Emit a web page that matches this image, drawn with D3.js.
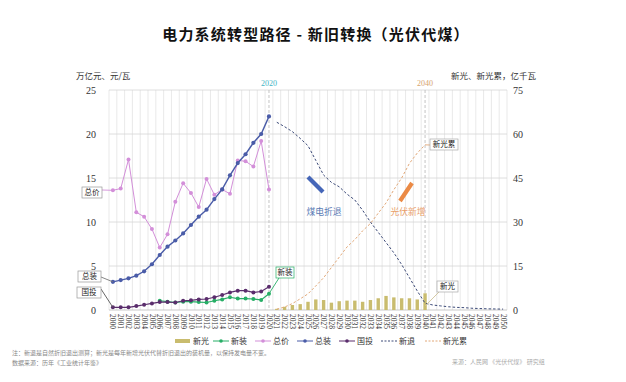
<!DOCTYPE html>
<html><head><meta charset="utf-8">
<script src="https://cdn.jsdelivr.net/npm/d3@7"></script>
<style>body{margin:0;background:#fff}svg{display:block}</style>
</head><body><svg id="c" width="626" height="382"></svg>
<script>
// ---------- data ----------
const years = d3.range(2000, 2051);
const histYears = d3.range(2000, 2021);
const totalPrice   = [13.6,13.8,17.1,11.1,10.6,9.2,7.1,8.6,12.3,14.4,13.3,11.7,14.9,13.1,13.7,13.2,17.0,16.9,16.3,19.2,13.7]; // 总价
const totalInstall = [3.2,3.4,3.6,3.9,4.4,5.2,6.25,7.2,7.9,8.7,9.66,10.6,11.4,12.6,13.7,15.3,16.7,17.7,19.0,20.0,22.0]; // 总装
const stateInvest  = [0.3,0.3,0.3,0.45,0.6,0.75,0.9,0.9,0.85,1.05,1.1,1.2,1.25,1.45,1.7,2.0,2.2,2.2,2.0,2.1,2.65]; // 国投
const newInstallYears = d3.range(2006, 2021);
const newInstall   = [1.05,0.95,0.85,0.95,0.95,0.9,0.85,1.05,1.2,1.45,1.3,1.3,1.25,1.15,1.85]; // 新装
const futureYears = d3.range(2021, 2051);
const newRetire = [64.0,62.5,60.8,58.5,56.0,51.0,46.0,43.5,42.0,39.5,37.5,34.0,30.0,26.5,23.0,19.5,15.5,11.0,6.5,2.3,
                   1.7,1.4,1.1,0.9,0.8,0.6,0.5,0.4,0.35,0.3]; // 新退 (右轴)
const pvYears = d3.range(2021, 2041);
const newPV    = [0.4,1.1,1.7,2.0,2.8,3.6,3.4,2.5,3.0,3.2,3.2,2.8,3.4,4.0,4.8,4.3,4.0,4.0,3.6,5.7]; // 新光 (右轴)
const newPVCum = [0.3,1.0,2.2,3.8,5.5,8.2,11.0,14.5,18.0,21.5,24.0,27.0,29.5,33.0,36.5,41.0,45.0,50.0,53.5,56.3]; // 新光累 (右轴)
const leftTicks = [0,5,10,15,20,25];
const rightTicks = [0,15,30,45,60,75];

// ---------- styles ----------
const C = {price:"#d38fd9", total:"#4a5ca8", state:"#5a2d6c", newI:"#27ae66", retire:"#3c4a78", cum:"#e2a878", bar:"#c9bc6e"};
const serif = "'Liberation Serif','DejaVu Serif',serif";
const cjk = "'Noto Sans CJK SC','Noto Sans',sans-serif";

const svg = d3.select("#c");
const x = d3.scaleBand().domain(years).range([109, 507]);
const yL = d3.scaleLinear().domain([0,25]).range([310, 90]);
const yR = d3.scaleLinear().domain([0,75]).range([310, 90]);
const cx = d => x(d) + x.bandwidth()/2;

// title
svg.append("text").attr("x", 316).attr("y", 40).attr("text-anchor","middle")
  .attr("font-family", cjk).attr("font-weight", 700).attr("font-size", 15).attr("letter-spacing", 1.2)
  .attr("fill","#111").text("电力系统转型路径 - 新旧转换（光伏代煤）");

// gridlines
const g = svg.append("g");
g.selectAll(".vg").data(years.concat([2051])).join("line")
  .attr("x1", d => d===2051 ? 507 : x(d)).attr("x2", d => d===2051 ? 507 : x(d))
  .attr("y1", 90).attr("y2", 310).attr("stroke", "#e3e3e3").attr("stroke-width", 0.8);
g.selectAll(".hg").data(leftTicks).join("line")
  .attr("x1", 109).attr("x2", 507).attr("y1", d => yL(d)).attr("y2", d => yL(d))
  .attr("stroke", d => d===0 ? "#bbb" : "#d6d6d6").attr("stroke-width", 0.8);

// axes
const axL = svg.append("g").attr("transform","translate(100,0)")
  .call(d3.axisLeft(yL).tickValues(leftTicks).tickSize(0).tickPadding(4));
axL.select(".domain").remove();
axL.selectAll("text").attr("font-family", serif).attr("font-size", 10).attr("fill","#333");
const axR = svg.append("g").attr("transform","translate(510,0)")
  .call(d3.axisRight(yR).tickValues(rightTicks).tickSize(0).tickPadding(3));
axR.select(".domain").remove();
axR.selectAll("text").attr("font-family", serif).attr("font-size", 10).attr("fill","#333");
const axB = svg.append("g").attr("transform","translate(0,311)")
  .call(d3.axisBottom(x).tickSize(0).tickPadding(0));
axB.select(".domain").remove();
axB.selectAll("text").attr("font-family", serif).attr("font-size", 7.5).attr("fill","#333")
  .attr("text-anchor","start").attr("dy", "0.32em").attr("transform","rotate(90) translate(3,0)");

// axis titles
svg.append("text").attr("x", 76).attr("y", 79).attr("font-family", cjk).attr("font-size", 8.5).attr("fill","#333").text("万亿元、元/瓦");
svg.append("text").attr("x", 536).attr("y", 79).attr("text-anchor","end").attr("font-family", cjk).attr("font-size", 8.5).attr("fill","#333").text("新光、新光累，亿千瓦");

// reference lines 2020 / 2040
[[2020,"#3fb3c4"],[2040,"#d6a36e"]].forEach(([yr,col]) => {
  svg.append("line").attr("x1", cx(yr)).attr("x2", cx(yr)).attr("y1", 90).attr("y2", 310)
    .attr("stroke", "#bdbdbd").attr("stroke-dasharray","3,2").attr("stroke-width", 0.9);
  svg.append("text").attr("x", cx(yr)).attr("y", 86).attr("text-anchor","middle")
    .attr("font-family", serif).attr("font-size", 8).attr("fill", col).text(yr);
});

// bars 新光
const bw = 3.4;
svg.selectAll(".bar").data(pvYears.map((yr,i)=>({yr, v:newPV[i]}))).join("rect")
  .attr("x", d => cx(d.yr) - bw/2).attr("width", bw)
  .attr("y", d => yR(d.v)).attr("height", d => yR(0) - yR(d.v)).attr("fill", C.bar);

// lines
function series(xs, vs, scale, color, opts={}) {
  const pts = xs.map((yr,i)=>({yr, v:vs[i]}));
  const line = d3.line().x(d => cx(d.yr)).y(d => scale(d.v));
  svg.append("path").datum(pts).attr("d", line).attr("fill","none").attr("stroke", color)
    .attr("stroke-width", opts.w || 1).attr("stroke-dasharray", opts.dash || null);
  if (opts.marker) {
    svg.append("g").selectAll("circle").data(pts).join("circle")
      .attr("cx", d => cx(d.yr)).attr("cy", d => scale(d.v)).attr("r", opts.r || 2).attr("fill", color);
  }
}
series(futureYears, newRetire, yR, C.retire, {dash:"2.5,2", w:1});
series(pvYears, newPVCum, yR, C.cum, {dash:"2.5,2", w:1});
series(histYears, totalPrice, yL, C.price, {marker:true, w:1});
series(histYears, totalInstall, yL, C.total, {marker:true, w:1.4, r:2.1});
series(newInstallYears, newInstall, yL, C.newI, {marker:true, w:1.2});
series(histYears, stateInvest, yL, C.state, {marker:true, w:1.2});

// label boxes with leader lines
function tag(text, bx, by, w, lx1, ly1, lx2, ly2, lineCol, border) {
  svg.append("line").attr("x1", lx1).attr("y1", ly1).attr("x2", lx2).attr("y2", ly2)
    .attr("stroke", lineCol).attr("stroke-width", 0.9);
  svg.append("rect").attr("x", bx).attr("y", by).attr("width", w).attr("height", 11)
    .attr("fill","#fff").attr("stroke", border || "#999").attr("stroke-width", 0.7);
  svg.append("text").attr("x", bx + w/2).attr("y", by + 8.3).attr("text-anchor","middle")
    .attr("font-family", cjk).attr("font-size", 7.5).attr("fill","#222").text(text);
}
tag("总价", 82, 187, 20, 102, 190, cx(2000), yL(totalPrice[0]), C.price);
tag("总装", 78, 271, 23, 101, 277, cx(2000), yL(totalInstall[0]), "#777");
tag("国投", 77, 287, 24, 101, 289, cx(2000), yL(stateInvest[0]), "#555");
tag("新装", 276, 267, 18, cx(2020), yL(newInstall[newInstall.length-1]), 279, 278, C.newI, C.newI);
tag("新光累", 430, 139, 28, cx(2040), yR(newPVCum[newPVCum.length-1]), 430, 145, C.cum, "#aaa");
tag("新光", 437, 281, 21, cx(2040), yR(0)-4, 439, 292, "#cfc39a", "#aaa");

// annotations
svg.append("line").attr("x1", 308).attr("y1", 177).attr("x2", 323).attr("y2", 192)
  .attr("stroke", "#4566b8").attr("stroke-width", 4.2);
svg.append("text").attr("x", 324).attr("y", 215).attr("text-anchor","middle")
  .attr("font-family", cjk).attr("font-size", 8.8).attr("fill", "#5b7cb5").text("煤电折退");
svg.append("line").attr("x1", 412).attr("y1", 183).attr("x2", 400).attr("y2", 201)
  .attr("stroke", "#eb8a45").attr("stroke-width", 4.2);
svg.append("text").attr("x", 408).attr("y", 215).attr("text-anchor","middle")
  .attr("font-family", cjk).attr("font-size", 8.8).attr("fill", "#e9a06a").text("光伏新增");

// legend
const lg = svg.append("g").attr("font-family", cjk).attr("font-size", 8).attr("fill","#333");
const items = [
  {t:"新光", x:175, type:"bar", c:C.bar},
  {t:"新装", x:213, type:"mk", c:C.newI},
  {t:"总价", x:255, type:"mk", c:C.price},
  {t:"总装", x:297, type:"mk", c:C.total},
  {t:"国投", x:339, type:"mk", c:C.state},
  {t:"新退", x:381, type:"dash", c:C.retire},
  {t:"新光累", x:425, type:"dash", c:C.cum}
];
items.forEach(it => {
  const yy = 341;
  if (it.type === "bar") {
    lg.append("rect").attr("x", it.x).attr("y", yy-2).attr("width", 15).attr("height", 4).attr("fill", it.c);
  } else {
    lg.append("line").attr("x1", it.x).attr("x2", it.x + 16).attr("y1", yy).attr("y2", yy)
      .attr("stroke", it.c).attr("stroke-width", 1).attr("stroke-dasharray", it.type==="dash" ? "2,1.5" : null);
    if (it.type === "mk") lg.append("circle").attr("cx", it.x + 8).attr("cy", yy).attr("r", 1.8).attr("fill", it.c);
  }
  lg.append("text").attr("x", it.x + 18).attr("y", yy + 3).text(it.t);
});

// notes
const nt = svg.append("g").attr("font-family", cjk).attr("font-size", 6).attr("fill","#888");
nt.append("text").attr("x", 12).attr("y", 355).text("注：新退是自然折旧退出测算；新光是每年新增光伏代替折旧退出的装机量，以保持发电量不变。");
nt.append("text").attr("x", 12).attr("y", 365).text("数据来源：历年《工业统计年鉴》");
nt.append("text").attr("x", 452).attr("y", 364).attr("fill","#aaa").text("来源：人民网 《光伏代煤》 研究组");
</script></body></html>
